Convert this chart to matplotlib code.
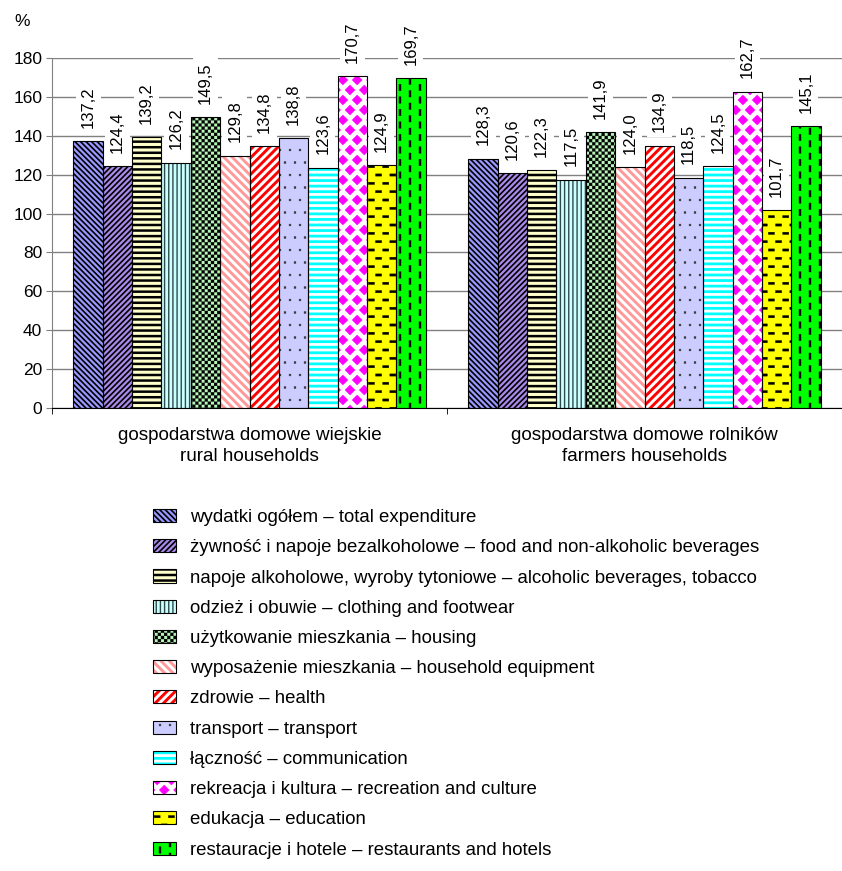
import warnings
import numpy as np
import matplotlib
matplotlib.use('Agg')
import matplotlib.pyplot as plt
import matplotlib.hatch as mhatch
from matplotlib.path import Path

warnings.filterwarnings('ignore')
plt.rcParams['font.family'] = ['Liberation Sans', 'DejaVu Sans']

groups = ['gospodarstwa domowe wiejskie\nrural households',
          'gospodarstwa domowe rolników\nfarmers households']

names = ['wydatki ogółem – total expenditure',
         'żywność i napoje bezalkoholowe – food and non-alkoholic beverages',
         'napoje alkoholowe, wyroby tytoniowe – alcoholic beverages, tobacco',
         'odzież i obuwie – clothing and footwear',
         'użytkowanie mieszkania – housing',
         'wyposażenie mieszkania – household equipment',
         'zdrowie – health',
         'transport – transport',
         'łączność – communication',
         'rekreacja i kultura – recreation and culture',
         'edukacja – education',
         'restauracje i hotele – restaurants and hotels']

rural = [137.2, 124.4, 139.2, 126.2, 149.5, 129.8, 134.8, 138.8, 123.6, 170.7, 124.9, 169.7]
farmers = [128.3, 120.6, 122.3, 117.5, 141.9, 124.0, 134.9, 118.5, 124.5, 162.7, 101.7, 145.1]

face_colors = ['#9999FF', '#A98AEB', '#FFFFCC', '#CCFFFF', '#B8F5B8', 'white',
               'white', '#CCCCFF', 'white', 'white', '#FFFF00', '#00FF00']
hatch_colors = ['black', 'black', 'black', '#2E4A4A', 'black', '#FF9999',
                'red', '#333333', '#00FFFF', '#FF00FF', 'black', 'black']
hatches = ['\\' * 6, '/' * 6, '---', '||||', 'c', '\\' * 4, '/' * 4, 'p', '---', 'd', 'e', 'v']
hatch_widths = [1.2, 1.2, 1.8, 1.0, 0.1, 2.1, 2.1, 0.3, 2.0, 0.3, 0.3, 0.3]


# extra tile patterns (checker, diamonds, dashes, dots) for the hatch machinery
def rect(cx, cy, w, h):
    return [(cx - w / 2, cy - h / 2), (cx + w / 2, cy - h / 2),
            (cx + w / 2, cy + h / 2), (cx - w / 2, cy + h / 2)]


def diamond(cx, cy, r):
    return [(cx - r, cy), (cx, cy - r), (cx + r, cy), (cx, cy + r)]


def lattice(nx, ny, shape, by_column=False):
    polys = []
    for j in range(-1, ny + 1):
        for i in range(-1, nx + 1):
            cx, cy = i / nx, j / ny
            if by_column and i % 2:
                cy += 0.5 / ny
            elif not by_column and j % 2:
                cx += 0.5 / nx
            polys.append(shape(cx, cy))
    return polys


class TileHatch(mhatch.HatchPatternBase):
    patterns = {
        'c': lattice(16, 32, lambda x, y: rect(x, y, 1 / 32, 1 / 32)),
        'd': lattice(7, 10, lambda x, y: diamond(x, y, 0.05)),
        'e': lattice(7, 12, lambda x, y: rect(x, y, 0.06, 0.022)),
        'v': lattice(10, 8, lambda x, y: rect(x, y, 0.02, 0.065), by_column=True),
        'p': lattice(10, 8, lambda x, y: rect(x, y, 0.018, 0.018)),
    }

    def __init__(self, hatch, density):
        self.polys = []
        for key, polys in self.patterns.items():
            if key in hatch:
                self.polys += polys
        self.num_vertices = 5 * len(self.polys)

    def set_vertices_and_codes(self, vertices, codes):
        for k, poly in enumerate(self.polys):
            vertices[5 * k:5 * k + 4] = poly
            vertices[5 * k + 4] = poly[0]
            codes[5 * k] = Path.MOVETO
            codes[5 * k + 1:5 * k + 4] = Path.LINETO
            codes[5 * k + 4] = Path.CLOSEPOLY


mhatch._hatch_types.append(TileHatch)


def set_hatch_lw(patch, lw):
    if hasattr(patch, 'set_hatch_linewidth'):
        patch.set_hatch_linewidth(lw)
    else:
        patch._hatch_linewidth = lw


fig = plt.figure(figsize=(8.42, 8.71), dpi=100)
ax = fig.add_axes([52 / 842, 1 - 408 / 871, 1 - 52 / 842, 350 / 871])

x = np.arange(len(groups))
w = 0.892 / len(names)
handles = []
for i in range(len(names)):
    vals = [rural[i], farmers[i]]
    pos = x + (i - (len(names) - 1) / 2) * w
    with plt.rc_context({'hatch.linewidth': hatch_widths[i]}):
        fill = ax.bar(pos, vals, w, color=face_colors[i], edgecolor=hatch_colors[i],
                      hatch=hatches[i], linewidth=0, zorder=2)
    for b in fill:
        set_hatch_lw(b, hatch_widths[i])
    edge = ax.bar(pos, vals, w, fill=False, edgecolor='black', linewidth=0.8, zorder=3)
    handles.append((fill, edge))
    for xp, v in zip(pos, vals):
        ax.annotate(f'{v:.1f}'.replace('.', ','), (xp, v), xytext=(0, 9.5),
                    textcoords='offset points', rotation=90, ha='center', va='bottom',
                    fontsize=12, zorder=4,
                    bbox=dict(boxstyle='square,pad=0.3', fc='white', ec='none'))

ax.set_ylim(0, 180)
ax.set_yticks(range(0, 181, 20))
ax.set_xlim(-0.5, 1.485)
ax.set_xticks(x, groups, linespacing=1.3)
ax.set_xticks([-0.5, 0.5, 1.5], minor=True)
ax.tick_params(axis='x', which='major', length=0, pad=14, labelsize=13.6)
ax.tick_params(axis='x', which='minor', length=4, direction='out', color='black')
ax.tick_params(axis='y', length=4, color='#808080', labelsize=12.5, pad=3)
ax.yaxis.grid(True, color='#808080', linewidth=1)
ax.set_axisbelow(True)
ax.spines['top'].set_visible(False)
ax.spines['right'].set_visible(False)
ax.spines['left'].set_color('#808080')
ax.spines['bottom'].set_color('black')

fig.text(22 / 842, 1 - 22 / 871, '%', ha='center', va='center', fontsize=12.5)

leg = fig.legend(handles, names, loc='upper left', bbox_to_anchor=(153 / 842, 1 - 509 / 871),
                 frameon=False, fontsize=13.4, borderpad=0, borderaxespad=0,
                 handlelength=1.22, handleheight=0.7, handletextpad=0.76, labelspacing=0.71)
for h, lw in zip(leg.legend_handles, hatch_widths):
    set_hatch_lw(h, lw)

fig.savefig('out.png', dpi=100)
